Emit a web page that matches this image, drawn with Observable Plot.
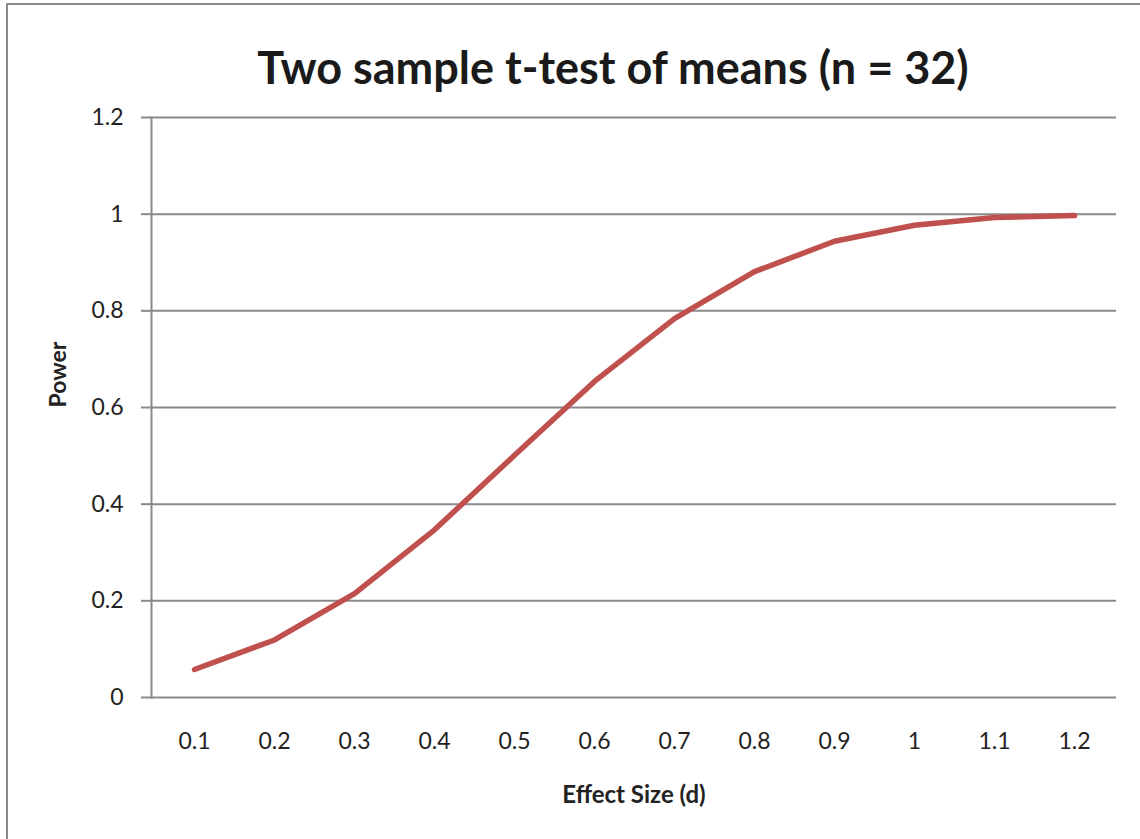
<!DOCTYPE html>
<html>
<head>
<meta charset="utf-8">
<script src="https://cdn.jsdelivr.net/npm/d3@7"></script>
<script src="https://cdn.jsdelivr.net/npm/@observablehq/plot@0.6"></script>
<style>
  html, body { margin: 0; padding: 0; background: #fff; }
  #wrap { position: relative; width: 1140px; height: 839px; overflow: hidden; font-family: Lato, "Open Sans", sans-serif; }
  #frame { position: absolute; left: 6px; top: 3px; width: 1140px; height: 840px; border-left: 2px solid #8a8a8a; border-top: 2px solid #8a8a8a; box-sizing: border-box; }
  #title { position: absolute; left: 0; top: 0; width: 1140px; height: 100px; box-sizing: border-box; padding-left: 86px; text-align: center; font-weight: bold; font-size: 45px; line-height: 134px; color: #1a1a1a; white-space: nowrap; }
  #chart { position: absolute; left: 0; top: 100px; }
</style>
</head>
<body>
<div id="wrap">
  <div id="frame"></div>
  <div id="title">Two sample t-test of means (n = 32)</div>
  <div id="chart"></div>
</div>
<script>
const effectSizes = ["0.1", "0.2", "0.3", "0.4", "0.5", "0.6", "0.7", "0.8", "0.9", "1", "1.1", "1.2"];
const power = [0.058, 0.119, 0.215, 0.347, 0.501, 0.654, 0.784, 0.881, 0.944, 0.977, 0.993, 0.997];
const yTicks = [0, 0.2, 0.4, 0.6, 0.8, 1, 1.2];
const yTickLabels = ["0", "0.2", "0.4", "0.6", "0.8", "1", "1.2"];
const xLabel = "Effect Size (d)";
const yLabel = "Power";

const data = effectSizes.map((d, i) => ({effect: d, power: power[i]}));

const gray = "#8a8a8a";
const textColor = "#222";

const chart = Plot.plot({
  width: 1140,
  height: 739,
  marginLeft: 151,
  marginRight: 24,
  marginTop: 17,
  marginBottom: 142,
  style: {fontFamily: "Lato, 'Open Sans', sans-serif", background: "transparent", overflow: "visible"},
  x: {type: "point", domain: effectSizes, padding: 0.5},
  y: {domain: [0, 1.2]},
  marks: [
    Plot.gridY(yTicks, {stroke: gray, strokeOpacity: 1, strokeWidth: 2}),
    Plot.frame({anchor: "left", stroke: gray, strokeWidth: 2}),
    Plot.axisY(yTicks, {
      tickSize: 10, tickPadding: 18, stroke: gray, strokeWidth: 2,
      fontSize: 23, fill: textColor,
      tickFormat: (d) => yTickLabels[yTicks.indexOf(d)],
      label: null
    }),
    Plot.axisX({tickSize: 0, tickPadding: 35, fontSize: 23, fill: textColor, label: null}),
    Plot.line(data, {x: "effect", y: "power", stroke: "#C0504D", strokeWidth: 5.5, strokeLinecap: "round", strokeLinejoin: "round"}),
    Plot.text([xLabel], {frameAnchor: "bottom", dy: 105, fontSize: 24, fontWeight: "bold", fill: textColor}),
    Plot.text([yLabel], {frameAnchor: "left", dx: -93, rotate: -90, fontSize: 23, fontWeight: "bold", fill: textColor})
  ]
});
document.getElementById("chart").appendChild(chart);
</script>
</body>
</html>
